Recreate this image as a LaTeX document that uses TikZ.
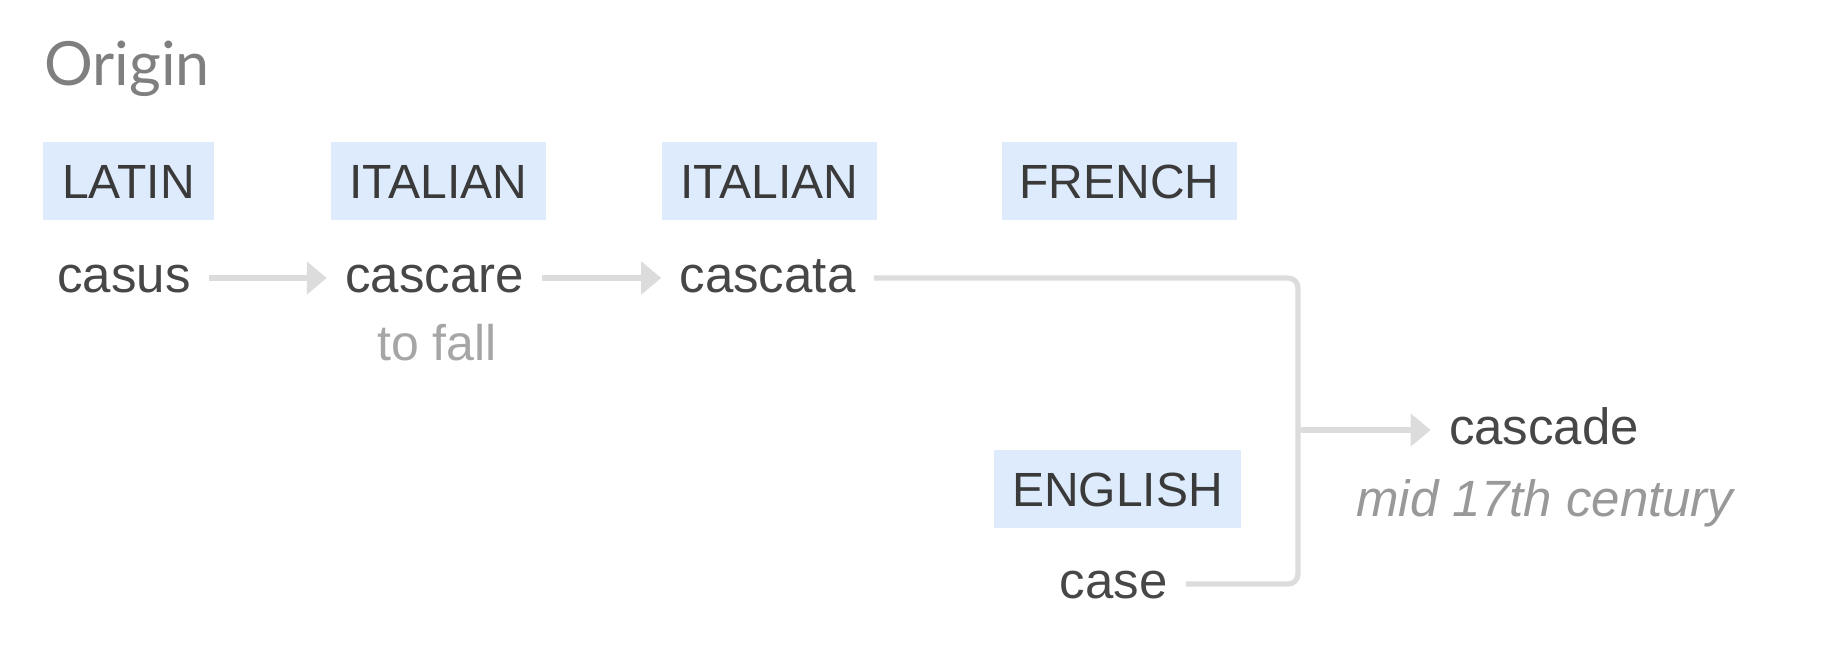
\documentclass[tikz,border=0pt]{standalone}
\usepackage{fontspec}
\setmainfont{Liberation Sans}
\newfontfamily\titlefont{Lato}
\usetikzlibrary{arrows.meta}
\definecolor{boxblue}{HTML}{DDEBFC}
\definecolor{linegray}{HTML}{DCDCDC}
\definecolor{wordgray}{HTML}{474747}
\definecolor{labelgray}{HTML}{3A3A3A}
\definecolor{glossgray}{HTML}{A6A6A6}
\definecolor{titlegray}{HTML}{7F7F7F}
\definecolor{dategray}{HTML}{999999}
\begin{document}
\begin{tikzpicture}[x=0.5pt,y=-0.5pt,
  lang/.style={fill=boxblue, text=labelgray, font=\fontsize{24pt}{28pt}\selectfont,
    inner xsep=0pt, inner ysep=0pt, text height=17pt, text depth=0pt,
    minimum height=39pt, anchor=center},
  word/.style={text=wordgray, font=\fontsize{25.5pt}{30pt}\selectfont,
    inner xsep=9pt, inner ysep=0pt, text height=14pt, text depth=0pt, anchor=base},
  gloss/.style={text=glossgray, font=\fontsize{25pt}{30pt}\selectfont, inner sep=0pt, anchor=base},
  datenote/.style={text=dategray, font=\itshape\fontsize{25.5pt}{30pt}\selectfont, inner sep=0pt, anchor=base},
  titletext/.style={text=titlegray, font=\titlefont\fontsize{30.5pt}{36pt}\selectfont, inner sep=0pt, anchor=base west},
  conn/.style={draw=linegray, line width=2.6pt},
  arr/.style={conn, -{Triangle[length=10pt,width=16pt]}}
]
\useasboundingbox (0,0) rectangle (1832,648);

\node[titletext] (title) at (44,85) {Origin};

% language labels
\node[lang, minimum width=85.5pt]  (lLatin)  at (128.5,181) {LATIN};
\node[lang, minimum width=107.5pt] (lItal1)  at (438.5,181) {ITALIAN};
\node[lang, minimum width=107.5pt] (lItal2)  at (769.5,181) {ITALIAN};
\node[lang, minimum width=117.5pt] (lFrench) at (1119.5,181) {FRENCH};
\node[lang, minimum width=123.5pt] (lEnglish) at (1117.5,489) {ENGLISH};

% words
\node[word] (casus)   at (124,292)   {casus};
\node[word] (cascare) at (434.5,292) {cascare};
\node[word] (cascata) at (767.5,292) {cascata};
\node[word] (case)    at (1113.5,598) {case};
\node[word] (cascade) at (1544,444)  {cascade};

\node[gloss] (tofall) at (437,360) {to fall};
\node[datenote] (date) at (1545,516) {mid 17th century};

% connectors
\coordinate (j) at (1298,430);
\draw[arr] (casus.east) -- (cascare.west);
\draw[arr] (cascare.east) -- (cascata.west);
\draw[conn, rounded corners=5pt] (cascata.east) -| (j) |- (case.east);
\draw[arr] (j) -- (cascade.west);
\end{tikzpicture}
\end{document}
